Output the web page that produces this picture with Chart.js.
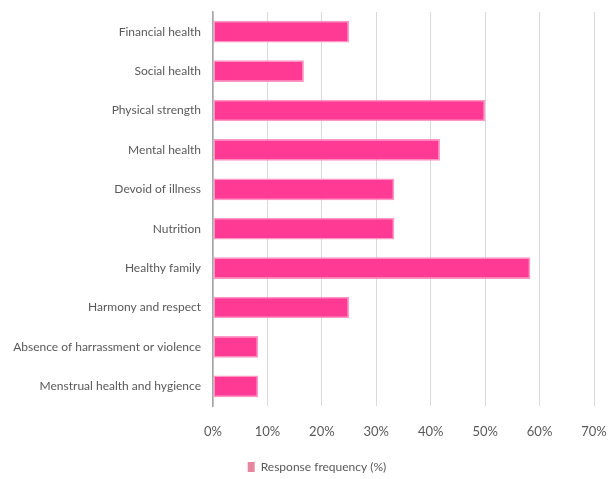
<!DOCTYPE html>
<html>
<head>
<meta charset="utf-8">
<script src="https://cdn.jsdelivr.net/npm/chart.js@4/dist/chart.umd.min.js"></script>
<style>
  html, body { margin: 0; padding: 0; background: #fff; }
  #wrap { width: 615px; height: 479px; }
</style>
</head>
<body>
<div id="wrap"><canvas id="myChart" width="615" height="479"></canvas></div>
<script>
var categories = [
  "Financial health",
  "Social health",
  "Physical strength",
  "Mental health",
  "Devoid of illness",
  "Nutrition",
  "Healthy family",
  "Harmony and respect",
  "Absence of harrassment or violence",
  "Menstrual health and hygience"
];
var responseFrequency = [25, 16.7, 50, 41.7, 33.3, 33.3, 58.3, 25, 8.3, 8.3];
var seriesLabel = "Response frequency (%)";

var textColor = "#595959";
var fontFamily = "Lato, 'Open Sans', sans-serif";

// nudge the legend a bit right and down like the original
var legendShift = {
  id: "legendShift",
  afterLayout: function(chart) {
    var lg = chart.legend;
    lg.left += 20; lg.right += 20;
    lg.top += 4; lg.bottom += 4;
  }
};

var ctx = document.getElementById("myChart").getContext("2d");
new Chart(ctx, {
  type: "bar",
  data: {
    labels: categories,
    datasets: [
      {
        label: seriesLabel,
        data: responseFrequency,
        backgroundColor: "#ff3a94",
        borderColor: "rgba(255, 140, 190, 0.9)",
        borderWidth: 1.5,
        borderSkipped: false,
        categoryPercentage: 1,
        barPercentage: 0.55
      }
    ]
  },
  options: {
    indexAxis: "y",
    responsive: false,
    animation: false,
    layout: { padding: { top: 12, right: 21, left: 0, bottom: 0 } },
    scales: {
      x: {
        min: 0,
        max: 70,
        ticks: {
          stepSize: 10,
          color: textColor,
          font: { family: fontFamily, size: 13 },
          padding: 18,
          callback: function(v) { return v + "%"; }
        },
        grid: { color: "#d9d9d9", drawTicks: false },
        border: { display: false },
        afterFit: function(scale) {
          scale.height = 43;
          scale.paddingRight = 13;
        }
      },
      y: {
        ticks: {
          color: textColor,
          font: { family: fontFamily, size: 12 },
          padding: 12
        },
        grid: { display: false, drawTicks: false },
        border: { color: "#a6a6a6", width: 1.5 },
        afterFit: function(scale) {
          scale.width = 213;
          scale.paddingTop = 0;
        }
      }
    },
    plugins: {
      legend: {
        position: "bottom",
        labels: {
          color: textColor,
          font: { family: fontFamily, size: 12 },
          boxWidth: 7,
          boxHeight: 10,
          padding: 8,
          generateLabels: function(chart) {
            return [{
              text: seriesLabel,
              fillStyle: "#e8859f",
              strokeStyle: "#e8859f",
              lineWidth: 0,
              datasetIndex: 0,
              fontColor: textColor
            }];
          }
        }
      },
      tooltip: { enabled: false }
    }
  },
  plugins: [legendShift]
});
</script>
</body>
</html>
